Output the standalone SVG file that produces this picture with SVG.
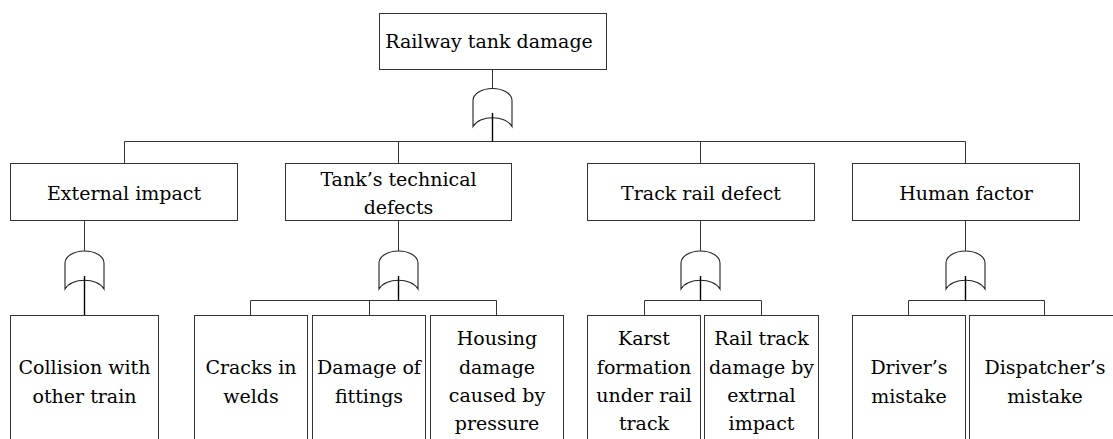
<svg xmlns="http://www.w3.org/2000/svg" width="1113" height="439" viewBox="0 0 1113 439">
<defs>
<style>
.box{fill:#fff;stroke:#333;stroke-width:1}
.ln{fill:none;stroke:#333;stroke-width:1}
.stem{fill:none;stroke:#000;stroke-width:1.4}
.gate{fill:#fff;stroke:#222;stroke-width:1.1}
.t{font-family:'DejaVu Serif',serif;font-size:19px;fill:#000;text-anchor:middle}
</style>
<path id="g" d="M-19.5,38 L-19.5,12 A19.5,12 0 0 1 19.5,12 L19.5,38 A21,14 0 0 0 -19.5,38 Z"/>
</defs>
<rect width="1113" height="439" fill="#fff"/>
<g id="connectors">
<path class="ln" d="M492.5,69.5V88.5 M124.5,141.5H965.5 M124.5,141.5V163.5 M398.5,141.5V163.5 M700.5,141.5V163.5 M965.5,141.5V163.5"/>
<path class="ln" d="M84.5,220.5V251 M398.5,220.5V251 M700.5,220.5V251 M965.5,220.5V251"/>
<path class="ln" d="M250.5,300.5H496.5 M250.5,300.5V315.5 M369.5,300.5V315.5 M496.5,300.5V315.5"/>
<path class="ln" d="M644.5,300.5H761.5 M644.5,300.5V315.5 M761.5,300.5V315.5"/>
<path class="ln" d="M908.5,300.5H1044.5 M908.5,300.5V315.5 M1044.5,300.5V315.5"/>
<use href="#g" class="gate" x="492.5" y="88.5"/>
<use href="#g" class="gate" x="84.5" y="251"/>
<use href="#g" class="gate" x="398.5" y="251"/>
<use href="#g" class="gate" x="700.5" y="251"/>
<use href="#g" class="gate" x="965.5" y="251"/>
<path class="stem" d="M492.5,113V141.5 M84.5,276V315.5 M398.5,276V300.5 M700.5,276V300.5 M965.5,276V300.5"/>
</g>
<g id="n-top"><rect class="box" x="379.5" y="13.5" width="227" height="56"/><text class="t" x="489" y="48">Railway tank damage</text></g>
<g id="n-external"><rect class="box" x="10.5" y="163.5" width="227" height="57"/><text class="t" x="124" y="200">External impact</text></g>
<g id="n-tank"><rect class="box" x="285.5" y="163.5" width="226" height="57"/><text class="t" x="398.5" y="186">Tank’s technical</text><text class="t" x="398.5" y="213.5">defects</text></g>
<g id="n-track"><rect class="box" x="587.5" y="163.5" width="227" height="57"/><text class="t" x="701" y="200">Track rail defect</text></g>
<g id="n-human"><rect class="box" x="852.5" y="163.5" width="227" height="57"/><text class="t" x="966" y="200">Human factor</text></g>
<g id="n-collision"><rect class="box" x="10.5" y="315.5" width="148" height="140"/><text class="t" x="84.5" y="374">Collision with</text><text class="t" x="84.5" y="402.5">other train</text></g>
<g id="n-cracks"><rect class="box" x="194.5" y="315.5" width="113" height="140"/><text class="t" x="251" y="374">Cracks in</text><text class="t" x="251" y="402.5">welds</text></g>
<g id="n-fittings"><rect class="box" x="312.5" y="315.5" width="113" height="140"/><text class="t" x="369" y="374">Damage of</text><text class="t" x="369" y="402.5">fittings</text></g>
<g id="n-housing"><rect class="box" x="430.5" y="315.5" width="133" height="140"/><text class="t" x="497" y="345">Housing</text><text class="t" x="497" y="373.5">damage</text><text class="t" x="497" y="402">caused by</text><text class="t" x="497" y="430">pressure</text></g>
<g id="n-karst"><rect class="box" x="587.5" y="315.5" width="113" height="140"/><text class="t" x="644" y="345">Karst</text><text class="t" x="644" y="373.5">formation</text><text class="t" x="644" y="402">under rail</text><text class="t" x="644" y="430">track</text></g>
<g id="n-railtrack"><rect class="box" x="704.5" y="315.5" width="114" height="140"/><text class="t" x="761.5" y="345">Rail track</text><text class="t" x="761.5" y="373.5">damage by</text><text class="t" x="761.5" y="402">extrnal</text><text class="t" x="761.5" y="430">impact</text></g>
<g id="n-driver"><rect class="box" x="852.5" y="315.5" width="113" height="140"/><text class="t" x="909" y="374">Driver’s</text><text class="t" x="909" y="402.5">mistake</text></g>
<g id="n-dispatcher"><rect class="box" x="969.5" y="315.5" width="151" height="140"/><text class="t" x="1045" y="374">Dispatcher’s</text><text class="t" x="1045" y="402.5">mistake</text></g>
</svg>
